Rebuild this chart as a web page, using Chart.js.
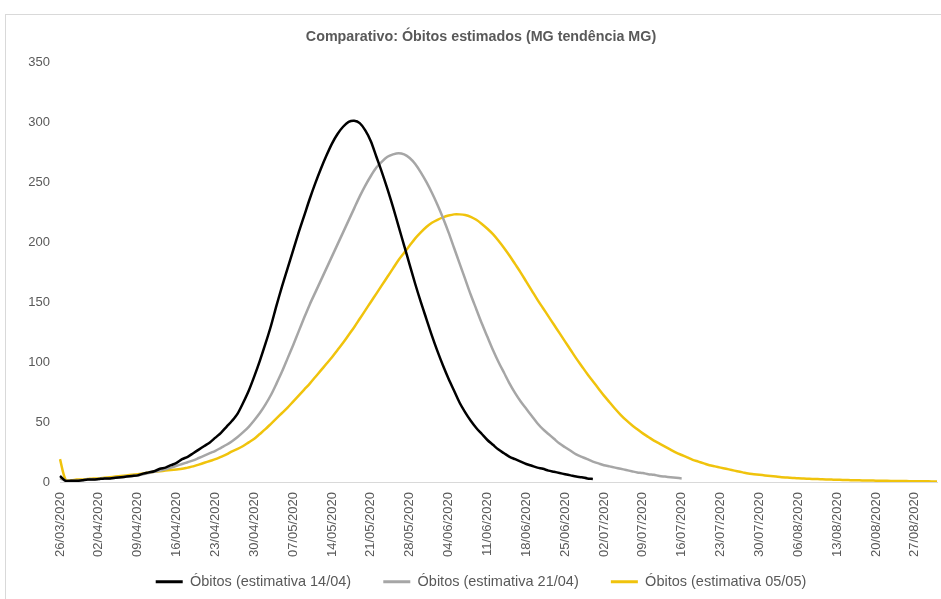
<!DOCTYPE html>
<html>
<head>
<meta charset="utf-8">
<script src="https://cdn.jsdelivr.net/npm/chart.js@4.4.1/dist/chart.umd.min.js"></script>
<style>
  html,body{margin:0;padding:0;background:#fff;overflow:hidden}
  #moldura{position:absolute;left:5px;top:14px;width:960px;height:620px;border:1px solid #d9d9d9}
  #wrap{position:absolute;left:5px;top:0;width:952px;height:599px}
</style>
</head>
<body>
<div id="moldura"></div>
<div id="wrap"><canvas id="graf" width="952" height="599"></canvas></div>
<script>
// Comparativo de óbitos estimados diários (MG) - três estimativas
const inicio = [2020, 2, 26]; // 26/03/2020
const nDias = 159;
const titulo = "Comparativo: Óbitos estimados (MG tendência MG)";
const nomes = ["Óbitos (estimativa 14/04)", "Óbitos (estimativa 21/04)", "Óbitos (estimativa 05/05)"];
const cores = ["#000000", "#a6a6a6", "#f0c30c"];
const yTicks = [0, 50, 100, 150, 200, 250, 300, 350];

// estimativa 14/04 (até 30/06)
const est1404 = [5,1,1,1,1.5,2,2,2.5,3,3,3.5,4,4.5,5,5.5,7,8,9,11,12,
  14,16,19,21,24,27,30,33,37,41,46,51,57,66,76,88,101,115,130,147,
  163,178,193,208,222,236,249,261,272,282,290,296,300,301,299,293,284,271,258,244,
  229,213,197,181,165,150,136,122,109,97,86,76,66,58,51,45,40,35,31,27,
  24,21,19,17,15,13.5,12,11,9.5,8.5,7.5,6.5,5.5,4.5,4,3,2.5];

// estimativa 21/04 (até 15/07)
const est2104 = [3,1,1,1,1.5,2,2,2.5,3,3,3.5,4,4.5,5,5.5,6.5,7.5,8.5,9.5,10.5,
  12,13.5,15,16.5,18,20,22,24,26,28.5,31,34,37.5,41.5,46,51.5,57.5,64.5,72.5,82,
  92,103,114,125.5,137,148,158,168,178,188,198,208,218,228,238,247,255,262,267,271,
  273,274,273,270,265,258,250,241,231,220,208,195,182,169,156,144,132,121,110,100,
  91,82,74,67,61,55,49,44,40,36,32,29,26,23,21,19,17,15.5,14,13,
  12,11,10,9,8,7.5,6.5,6,5,4.5,4,3.5,3];

// estimativa 05/05 (até 31/08)
const est0505 = [19,2,1.5,2,2,2.5,3,3,3.5,4,4.5,5,5.5,6,6.5,7,8,8.5,9,9.5,
  10,10.5,11,12,13,14.5,16,17.5,19,21,23,25.5,27.5,30,33,36,40,44,48.5,53,
  57.5,62,67,72,77,82,87.5,93,98.5,104,110,116,122.5,129,136,143,150,157,164,171,
  178,185,191,197,203,208,212.5,216,218.5,220.5,222,223,223,222.5,221,218.5,215,211,206.5,201,
  195,188.5,181.5,174.5,167,159.5,152,145,138,131,124,117,110,103,96.5,90,84,78,72,66.5,
  61,56,51.5,47.5,44,40.5,37.5,34.5,32,29.5,27,24.5,22.5,20.5,18.5,17,15.5,14,13,12,
  11,10,9,8,7,6.5,6,5.5,5,4.5,4,3.7,3.4,3.1,2.9,2.7,2.5,2.3,2.1,2,
  1.9,1.7,1.6,1.5,1.4,1.3,1.2,1.1,1,1,0.9,0.8,0.8,0.7,0.7,0.6,0.6,0.5,0.5];

const datas = [];
for (let i = 0; i < nDias; i++) {
  const d = new Date(Date.UTC(inicio[0], inicio[1], inicio[2] + i));
  const dd = String(d.getUTCDate()).padStart(2, "0"), mm = String(d.getUTCMonth() + 1).padStart(2, "0");
  datas.push(dd + "/" + mm + "/" + d.getUTCFullYear());
}

const fonte = "'Liberation Sans',Arial,sans-serif";
const cinza = "#595959";
Chart.defaults.font.family = fonte;
Chart.defaults.color = cinza;

const series = [est1404, est2104, est0505];
const legendaPadrao = Chart.defaults.plugins.legend.labels.generateLabels;

new Chart(document.getElementById("graf"), {
  type: "line",
  data: {
    labels: datas,
    datasets: series.map((s, k) => ({
      label: nomes[k], data: s, borderColor: cores[k], backgroundColor: cores[k],
      borderWidth: 2.5, pointRadius: 0, tension: 0.3, fill: false
    }))
  },
  options: {
    responsive: false, animation: false,
    layout: { padding: 0 },
    plugins: {
      title: { display: true, text: titulo, color: cinza, font: { size: 14.3, weight: "bold" }, padding: { top: 28.4, bottom: 16.4 } },
      legend: {
        position: "bottom",
        labels: {
          color: cinza, font: { size: 14.5 }, boxWidth: 27, boxHeight: 3, padding: 12,
          generateLabels: ch => legendaPadrao(ch).map((l, i) => {
            l.lineWidth = 0;
            if (i < nomes.length - 1) l.text = l.text + "     ";
            return l;
          })
        }
      },
      tooltip: { enabled: false }
    },
    scales: {
      x: {
        grid: { display: false },
        border: { display: true, color: "#d9d9d9", width: 1 },
        ticks: {
          autoSkip: false, maxRotation: 90, minRotation: 90, padding: 2,
          color: cinza, font: { size: 13 },
          callback: (v, i) => (i % 7 === 0 ? datas[i] : null)
        },
        afterFit: s => { s.height = 80.5; }
      },
      y: {
        min: 0, max: 350,
        grid: { display: false },
        border: { display: false },
        afterBuildTicks: s => { s.ticks = yTicks.map(v => ({ value: v })); },
        ticks: { padding: 2, color: cinza, font: { size: 13 } },
        afterFit: s => { s.width = 55; }
      },
      // margem direita vazia (o quadro original continua além do recorte)
      margem: {
        position: "right", display: true,
        grid: { display: false }, border: { display: false },
        ticks: { display: false },
        afterFit: s => { s.width = 20; }
      }
    }
  }
});
</script>
</body>
</html>
